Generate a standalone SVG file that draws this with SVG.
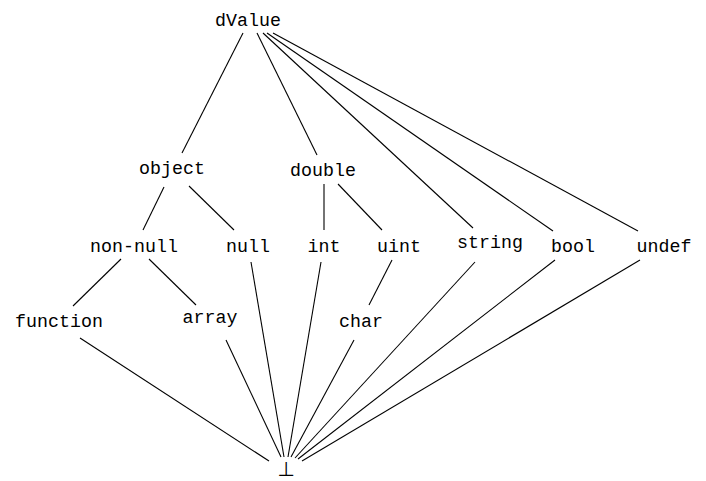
<svg xmlns="http://www.w3.org/2000/svg" width="706" height="481" viewBox="0 0 706 481">
<style>
.n text{font-family:"Liberation Mono","DejaVu Sans Mono",monospace;font-size:18.3px;fill:#000;text-anchor:middle}
#edges line{stroke:#000;stroke-width:1.1}
</style>
<rect width="706" height="481" fill="#fff"/>
<g id="edges">
<line x1="243" y1="33" x2="182" y2="153"/>
<line x1="257" y1="33" x2="317" y2="155"/>
<line x1="263" y1="33" x2="473" y2="228"/>
<line x1="267" y1="33" x2="553" y2="231"/>
<line x1="273" y1="33" x2="638" y2="231"/>
<line x1="164" y1="187" x2="143" y2="230"/>
<line x1="189" y1="186" x2="234" y2="230"/>
<line x1="324" y1="184" x2="324" y2="230"/>
<line x1="338" y1="184" x2="382" y2="230"/>
<line x1="121" y1="259" x2="73" y2="306"/>
<line x1="149" y1="259" x2="196" y2="305"/>
<line x1="392" y1="260" x2="369" y2="305"/>
<line x1="80" y1="338" x2="269" y2="461"/>
<line x1="226" y1="340" x2="281" y2="457"/>
<line x1="251" y1="262" x2="284" y2="457"/>
<line x1="321" y1="262" x2="288" y2="457"/>
<line x1="354" y1="340" x2="291" y2="457"/>
<line x1="475" y1="262" x2="295" y2="458"/>
<line x1="555" y1="260" x2="298" y2="459"/>
<line x1="640" y1="260" x2="302" y2="461"/>
</g>
<g id="dValue" class="n"><text x="248" y="26">dValue</text></g>
<g id="object" class="n"><text x="172" y="174">object</text></g>
<g id="double" class="n"><text x="323" y="176">double</text></g>
<g id="non-null" class="n"><text x="134" y="252">non-null</text></g>
<g id="null" class="n"><text x="248" y="252">null</text></g>
<g id="int" class="n"><text x="324" y="252">int</text></g>
<g id="uint" class="n"><text x="399" y="252">uint</text></g>
<g id="string" class="n"><text x="490" y="248">string</text></g>
<g id="bool" class="n"><text x="573" y="252">bool</text></g>
<g id="undef" class="n"><text x="664" y="252">undef</text></g>
<g id="function" class="n"><text x="59" y="327">function</text></g>
<g id="array" class="n"><text x="210" y="323">array</text></g>
<g id="char" class="n"><text x="361" y="327">char</text></g>
<g id="bottom"><text x="286" y="476" font-family="DejaVu Sans, sans-serif" font-size="20" fill="#000" text-anchor="middle">⊥</text></g>
</svg>
